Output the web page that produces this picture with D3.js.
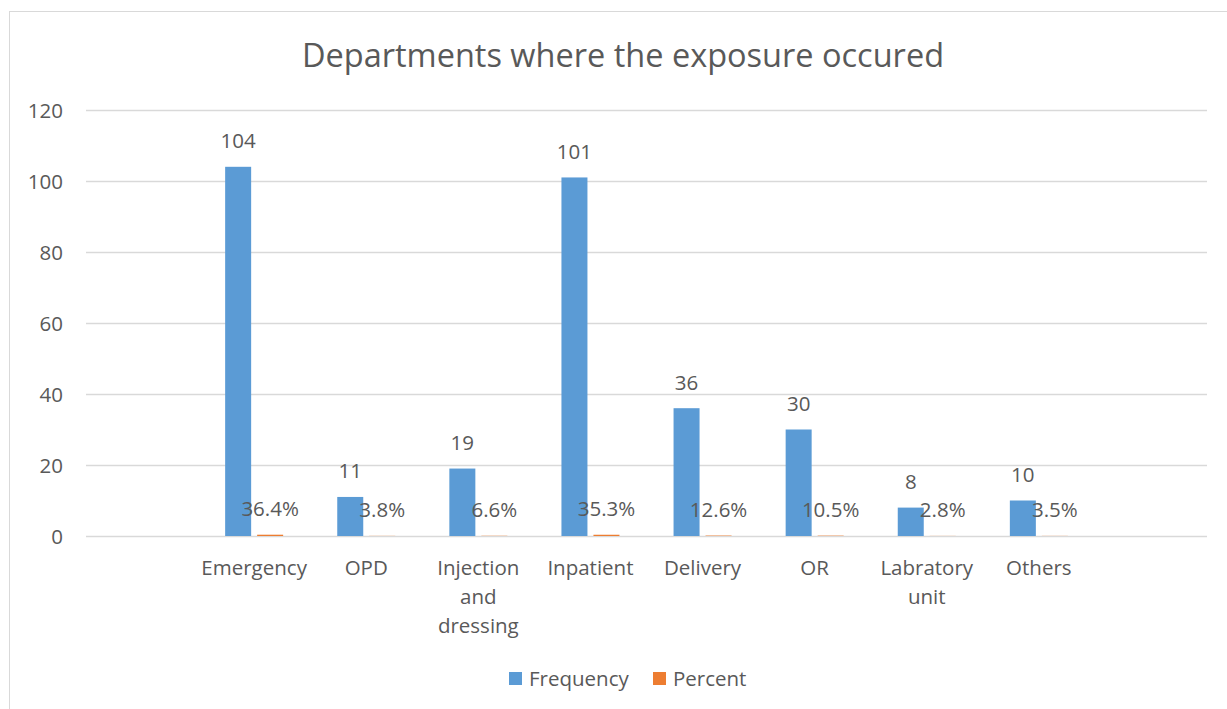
<!DOCTYPE html>
<html><head><meta charset="utf-8">
<script src="https://cdn.jsdelivr.net/npm/d3@7"></script>
<style>body{margin:0;background:#fff;} text{font-family:"Open Sans",sans-serif;fill:#595959;}</style>
</head><body>
<svg id="c" width="1227" height="709"></svg>
<script>
const categories = ["", "Emergency", "OPD", "Injection and dressing", "Inpatient", "Delivery", "OR", "Labratory unit", "Others", ""];
const frequency = [null, 104, 11, 19, 101, 36, 30, 8, 10, null];
const percent = [null, 0.364, 0.038, 0.066, 0.353, 0.126, 0.105, 0.028, 0.035, null];
const yTicks = [0, 20, 40, 60, 80, 100, 120];
const seriesNames = ["Frequency", "Percent"];
const colors = ["#5B9BD5", "#ED7D31"];

const fs = "20.5px";
const svg = d3.select("#c");
svg.append("rect").attr("x",9.5).attr("y",11.5).attr("width",1400).attr("height",900)
  .attr("fill","#fff").attr("stroke","#d9d9d9");

const x = d3.scaleBand().domain(d3.range(categories.length)).range([86,1207]).padding(0);
const y = d3.scaleLinear().domain([0,120]).range([536,110]);

svg.append("text").attr("x",623).attr("y",67).attr("text-anchor","middle")
  .style("font-size","32.5px").text("Departments where the exposure occured");

const yAxis = d3.axisLeft(y).tickValues(yTicks).tickSize(-(1207-86)).tickPadding(23);
const gy = svg.append("g").attr("transform","translate(86,0)").call(yAxis);
gy.select(".domain").remove();
gy.selectAll("line").attr("stroke","#d9d9d9").attr("stroke-width",1.3);
gy.selectAll("text").style("font-size",fs).attr("fill","#595959").attr("dy","0.35em");

const data = categories.map((c,i)=>({c,i,f:frequency[i],p:percent[i]})).filter(d=>d.f!=null);
const bw = 26, gap = 3;
const cx = d => x(d.i)+x.bandwidth()/2;

svg.selectAll(".bf").data(data).enter().append("rect")
  .attr("x",d=>cx(d)-gap-bw).attr("width",bw)
  .attr("y",d=>y(d.f)).attr("height",d=>y(0)-y(d.f)).attr("fill",colors[0]);
svg.selectAll(".bp").data(data).enter().append("rect")
  .attr("x",d=>cx(d)+gap).attr("width",bw)
  .attr("y",d=>y(d.p)).attr("height",d=>Math.max(0,y(0)-y(d.p))).attr("fill",colors[1]);

svg.selectAll(".lf").data(data).enter().append("text")
  .attr("x",d=>cx(d)-gap-bw/2).attr("y",d=>y(d.f)-18.5).attr("text-anchor","middle")
  .style("font-size",fs).text(d=>d.f);
svg.selectAll(".lp").data(data).enter().append("text")
  .attr("x",d=>cx(d)+gap+bw/2).attr("y",d=>y(d.p)-18.5).attr("text-anchor","middle")
  .style("font-size",fs).text(d=>d3.format(".1%")(d.p));

// x labels with wrapping
const maxW = 112;
data.forEach(d=>{
  const t = svg.append("text").attr("x",cx(d)).attr("y",575).attr("text-anchor","middle").style("font-size",fs);
  const words = d.c.split(" ");
  let lines=[], cur="";
  const meas = svg.append("text").style("font-size",fs);
  words.forEach(w=>{
    const test = cur? cur+" "+w : w;
    meas.text(test);
    if (cur && meas.node().getComputedTextLength()>maxW){ lines.push(cur); cur=w; } else cur=test;
  });
  lines.push(cur); meas.remove();
  lines.forEach((l,k)=>t.append("tspan").attr("x",cx(d)).attr("y",575+k*29).text(l));
});

// legend
const leg = [{n:seriesNames[0],c:colors[0],x:509},{n:seriesNames[1],c:colors[1],x:653}];
leg.forEach(l=>{
  svg.append("rect").attr("x",l.x).attr("y",672).attr("width",13).attr("height",13).attr("fill",l.c);
  svg.append("text").attr("x",l.x+20).attr("y",686).style("font-size",fs).text(l.n);
});
</script>
</body></html>
